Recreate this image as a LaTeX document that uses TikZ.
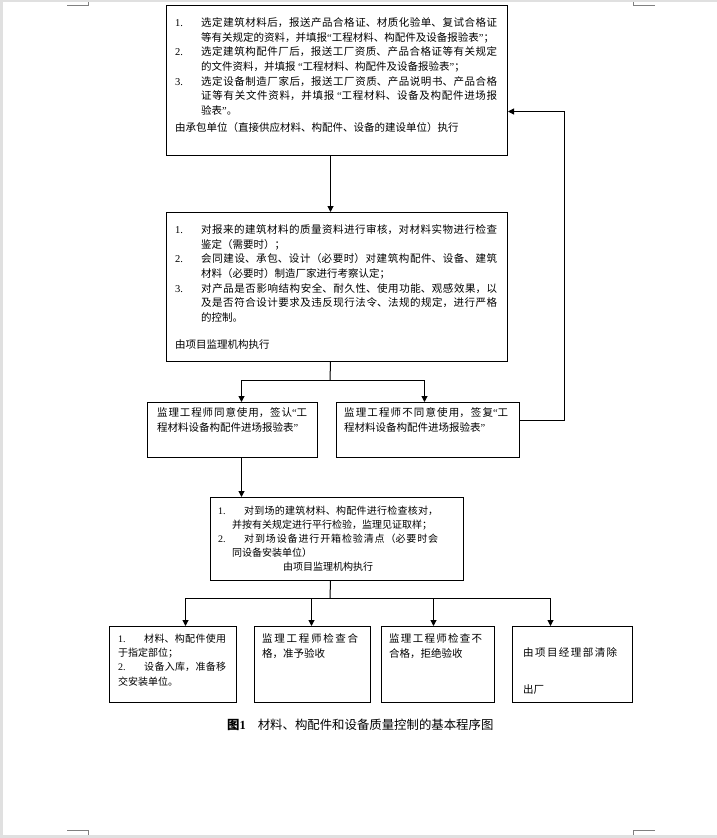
\documentclass[tikz,border=0pt]{standalone}
\usepackage{fontspec}
\setmainfont{Liberation Serif}
\newfontfamily\cjk{Noto Sans CJK SC}
\usetikzlibrary{arrows.meta}
\XeTeXlinebreaklocale "zh"
\XeTeXlinebreakskip=0pt plus 2pt minus 0.4pt
\newcommand{\listentry}[2][26pt]{\noindent\hangindent=#1\hangafter=1\makebox[26pt][l]{\rmfamily #2}}
\newcommand{\qopen}{{\rmfamily “}}
\newcommand{\qclose}{{\rmfamily ”}}

\begin{document}
\begin{tikzpicture}[x=1pt, y=-1pt]
		\tikzstyle {box} = [draw, line width=1pt, anchor=north west, inner sep=0pt]
		\tikzstyle {txt} = [anchor=north west, inner sep=0pt, align=justify]
		\tikzstyle {link} = [line width=1pt]
		\tikzstyle {flow} = [line width=1pt, -{Triangle[length=6pt, width=6pt]}]
		\tikzstyle {cropmark} = [gray, line width=0.6pt]

		% page
		\useasboundingbox (0,0) rectangle (717,838);
		\fill[black!12] (0,0) rectangle (717,838);
		\fill[white] (3,2) rectangle (717,835);
		\draw[cropmark] (67,5.5) -- (88,5.5) -- (88,2);
		\draw[cropmark] (655,5.5) -- (633,5.5) -- (633,2);
		\draw[cropmark] (67,830) -- (88,830) -- (88,835);
		\draw[cropmark] (655,830) -- (633,830) -- (633,835);

		% boxes
		\node[box, minimum width=341pt, minimum height=150pt] (select) at (166,5) {};
		\node[box, minimum width=341pt, minimum height=149pt] (review) at (166,212) {};
		\node[box, minimum width=170pt, minimum height=55pt] (agree) at (147,402) {};
		\node[box, minimum width=183pt, minimum height=55pt] (reject) at (336,402) {};
		\node[box, minimum width=253pt, minimum height=83pt] (check) at (210,497) {};
		\node[box, minimum width=127pt, minimum height=76pt] (use) at (109,626) {};
		\node[box, minimum width=116pt, minimum height=76pt] (pass) at (254,626) {};
		\node[box, minimum width=113pt, minimum height=76pt] (fail) at (381,626) {};
		\node[box, minimum width=120pt, minimum height=76pt] (clear) at (512,626) {};

		% texts
		\node[txt, text width=322pt, font=\cjk\fontsize{10.5}{14.67}\selectfont] (selecttext)
			at ([xshift=9pt, yshift=-12.3pt]select.north west) {%
			\listentry{1.}选定建筑材料后，报送产品合格证、材质化验单、复试合格证\linebreak
			等有关规定的资料，并填报\qopen 工程材料、构配件及设备报验表\qclose ；
			\par\listentry{2.}选定建筑构配件厂后，报送工厂资质、产品合格证等有关规定\linebreak
			的文件资料，并填报 \qopen 工程材料、构配件及设备报验表\qclose ；
			\par\listentry{3.}选定设备制造厂家后，报送工厂资质、产品说明书、产品合格\linebreak
			证等有关文件资料，并填报 \qopen 工程材料、设备及构配件进场报\linebreak
			验表\qclose 。
			\par\vspace{2.3pt}\noindent 由承包单位（直接供应材料、构配件、设备的建设单位）执行};

		\node[txt, text width=322pt, font=\cjk\fontsize{10.5}{14.67}\selectfont] (reviewtext)
			at ([xshift=9pt, yshift=-12.3pt]review.north west) {%
			\listentry{1.}对报来的建筑材料的质量资料进行审核，对材料实物进行检查\linebreak
			鉴定（需要时）；
			\par\listentry{2.}会同建设、承包、设计（必要时）对建筑构配件、设备、建筑\linebreak
			材料（必要时）制造厂家进行考察认定；
			\par\listentry{3.}对产品是否影响结构安全、耐久性、使用功能、观感效果，以\linebreak
			及是否符合设计要求及违反现行法令、法规的规定，进行严格\linebreak
			的控制。
			\par\vspace{12.3pt}\noindent 由项目监理机构执行};

		\node[txt, text width=150pt, font=\cjk\fontsize{10.5}{15}\selectfont] (agreetext)
			at ([xshift=10pt, yshift=-5.3pt]agree.north west)
			{监理工程师同意使用，签认\qopen 工\linebreak 程材料设备构配件进场报验表\qclose};
		\node[txt, text width=164pt, font=\cjk\fontsize{10.5}{15}\selectfont] (rejecttext)
			at ([xshift=8pt, yshift=-5.3pt]reject.north west)
			{监理工程师不同意使用，签复\qopen 工\linebreak 程材料设备构配件进场报验表\qclose};

		\node[txt, text width=220pt, font=\cjk\fontsize{10}{14}\selectfont] (checktext)
			at ([xshift=8pt, yshift=-8.5pt]check.north west) {%
			\listentry[14pt]{1.}对到场的建筑材料、构配件进行检查核对，\linebreak
			并按有关规定进行平行检验，监理见证取样；
			\par\listentry[14pt]{2.}对到场设备进行开箱检验清点（必要时会\linebreak
			同设备安装单位）
			\par{\centering 由项目监理机构执行\par}};

		\node[txt, text width=108pt, font=\cjk\fontsize{10}{14.3}\selectfont] (usetext)
			at ([xshift=9pt, yshift=-7.5pt]use.north west) {%
			\listentry[0pt]{1.}材料、构配件使用\linebreak 于指定部位；
			\par\listentry[0pt]{2.}设备入库，准备移\linebreak 交安装单位。};
		\node[txt, text width=96pt, font=\cjk\fontsize{10.5}{15}\selectfont] (passtext)
			at ([xshift=8pt, yshift=-7.3pt]pass.north west)
			{监理工程师检查合\linebreak 格，准予验收};
		\node[txt, text width=93pt, font=\cjk\fontsize{10.5}{15}\selectfont] (failtext)
			at ([xshift=8pt, yshift=-7.3pt]fail.north west)
			{监理工程师检查不\linebreak 合格，拒绝验收};
		\node[txt, text width=94pt, font=\cjk\fontsize{10.5}{37}\selectfont] (cleartext)
			at ([xshift=11pt, yshift=-21.3pt]clear.north west)
			{由项目经理部清除\linebreak 出厂};

		% connectors
		\draw[flow] ([xshift=-6.5pt]select.south) -- ([xshift=-6.5pt]review.north);
		\coordinate (fork1) at (330,380);
		\draw[link] ([xshift=-6.5pt]review.south) -- (fork1);
		\draw[flow] (fork1) -| ([xshift=9pt]agree.north);
		\draw[flow] (fork1) -| ([xshift=-3.5pt]reject.north);
		\draw[flow] ([yshift=9.5pt]reject.east) -- ++(44,0) |- ([yshift=-31pt]select.east);

		\coordinate (drop1) at ([xshift=9pt]agree.south);
		\draw[flow] (drop1) -- (drop1 |- check.north);

		\coordinate (fork2) at (330,598);
		\draw[link] ([xshift=-6.5pt]check.south) -- (fork2);
		\foreach \b/\s in {use/12.5, pass/-1, fail/-4.5, clear/-22}
			\draw[flow] (fork2) -| ([xshift=\s pt]\b.north);

		% caption
		\node[anchor=west, inner sep=0pt, font=\cjk\fontsize{12.4}{15}\selectfont] (caption) at (227,725)
			{{\bfseries 图}{\rmfamily\bfseries 1}\hspace{12pt}材料、构配件和设备质量控制的基本程序图};

	\end{tikzpicture}
\end{document}
